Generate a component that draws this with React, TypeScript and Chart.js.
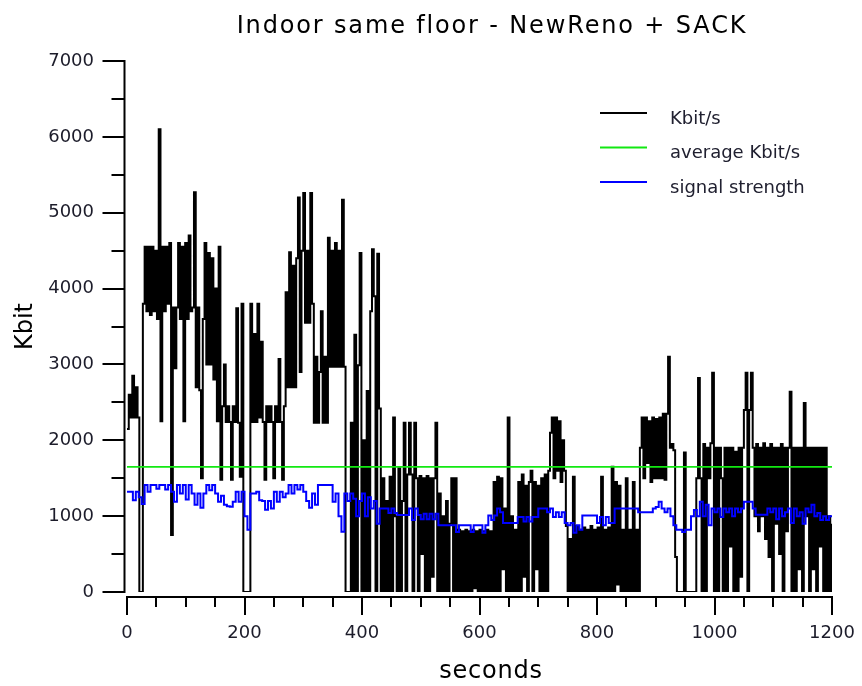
import React, { useEffect, useRef } from 'react';
import { Chart, registerables } from 'chart.js';

Chart.register(...registerables);

// ---- text ----
const TITLE = 'Indoor same floor - NewReno + SACK';
const X_TITLE = 'seconds';
const Y_TITLE = 'Kbit';
const SERIES_LABELS = ['Kbit/s', 'average Kbit/s', 'signal strength'];
const SERIES_COLORS = ['#000000', '#12e812', '#0000ff'];

// ---- axes ----
const X_MIN = 0;
const X_MAX = 1200;
const X_MAJOR = 200;
const X_MINOR = 50;
const Y_MIN = 0;
const Y_MAX = 7000;
const Y_MAJOR = 1000;
const Y_MINOR = 500;

// ---- throughput, one sample every 3 s ----
const KBIT_STEP = 3;
const KBIT = [
  2150, 2600, 2300, 2850, 2300, 2700, 2300, 0, 0, 3800,
  4550, 3700, 4550, 3650, 4550, 3700, 4500, 3600, 6100, 2250,
  4550, 3700, 4550, 3800, 4600, 750, 3750, 2950, 3750, 4600,
  3600, 4550, 2250, 4600, 3600, 4700, 3700, 3750, 5270, 2700,
  3750, 2660, 1500, 3600, 4600, 3000, 4470, 3000, 4400, 2800,
  4000, 2250, 4550, 1480, 2450, 3000, 2240, 2450, 2240, 1480,
  2450, 2240, 3740, 2230, 1520, 3800, 0, 0, 0, 0,
  3800, 2240, 3400, 2240, 3800, 2300, 3300, 2240, 1480, 2450,
  2240, 2450, 2240, 1500, 2450, 2240, 3070, 2240, 1480, 2450,
  3950, 2700, 4480, 2700, 4300, 2700, 4400, 5200, 2900, 4500,
  5260, 3550, 4500, 3550, 5260, 3800, 2230, 3100, 2230, 2900,
  3700, 2230, 3100, 2230, 4670, 2970, 4500, 2970, 4600, 2970,
  4500, 2970, 5170, 2970, 0, 0, 0, 2230, 0, 3390,
  0, 2990, 4470, 0, 2000, 0, 2650, 0, 3700, 4520,
  3900, 0, 4460, 2420, 0, 1500, 0, 1200, 0, 1520,
  0, 2300, 1000, 0, 1630, 0, 1200, 2230, 0, 1550,
  2230, 1550, 0, 2230, 1500, 0, 1530, 500, 1500, 0,
  1530, 0, 1500, 200, 1500, 2230, 0, 1300, 0, 1000,
  0, 1200, 0, 900, 1500, 0, 1500, 0, 820, 0,
  800, 0, 820, 0, 800, 0, 820, 50, 800, 0,
  820, 0, 800, 0, 820, 0, 800, 0, 1450, 0,
  1520, 0, 1500, 300, 1100, 0, 2300, 0, 1000, 0,
  820, 0, 1450, 0, 1550, 200, 1400, 0, 1450, 1600,
  0, 1450, 300, 1400, 0, 1500, 0, 1550, 0, 1600,
  2100, 2300, 1500, 2300, 1600, 2250, 1450, 2000, 1600, 870,
  0, 700, 0, 1520, 0, 870, 0, 820, 0, 850,
  0, 820, 0, 870, 0, 820, 0, 850, 0, 1520,
  0, 820, 0, 850, 0, 1650, 0, 1450, 100, 1400,
  0, 820, 0, 1500, 0, 820, 0, 1450, 0, 820,
  0, 1900, 2300, 1500, 2300, 1700, 2250, 1450, 2300, 1500,
  2280, 1500, 2300, 1500, 2350, 1480, 2350, 3100, 1900, 1950,
  1870, 460, 0, 0, 0, 0, 1840, 0, 0, 0,
  0, 0, 0, 1500, 2820, 1500, 0, 1950, 0, 1900,
  1500, 1960, 2890, 0, 1900, 0, 1900, 1500, 0, 1900,
  0, 1900, 600, 1900, 0, 1850, 0, 1900, 200, 1900,
  2400, 2890, 0, 2400, 2890, 1900, 1000, 1950, 800, 1900,
  1000, 1960, 700, 1900, 460, 1950, 0, 1900, 900, 1900,
  500, 1950, 0, 1900, 800, 1900, 2640, 0, 1900, 0,
  1900, 300, 1900, 0, 2490, 1000, 1900, 0, 1900, 300,
  1900, 0, 1900, 600, 1900, 0, 1900, 0, 1000, 0,
  900,
];

// ---- mean throughput over the run ----
const AVERAGE_KBIT = 1650;

// ---- signal strength, one sample every 5 s ----
const SIGNAL_STEP = 5;
const SIGNAL = [
  1320, 1320, 1210, 1320, 1250, 1160, 1410, 1320, 1410, 1410,
  1360, 1410, 1410, 1350, 1410, 1320, 1190, 1410, 1300, 1410,
  1220, 1410, 1300, 1150, 1300, 1110, 1300, 1410, 1340, 1410,
  1300, 1190, 1270, 1150, 1130, 1125, 1190, 1320, 1190, 1320,
  1000, 820, 1300, 1300, 1320, 1210, 1200, 1085, 1200, 1100,
  1320, 1190, 1320, 1250, 1300, 1410, 1300, 1410, 1350, 1410,
  1320, 1200, 1110, 1300, 1150, 1410, 1410, 1410, 1410, 1410,
  1190, 1300, 1000, 795, 1300, 1200, 1300, 1230, 1000, 1200,
  1300, 1000, 1250, 1100, 1200, 900, 1100, 1100, 1100, 1040,
  1100, 1040, 1015, 1015, 1015, 1015, 1100, 950, 1100, 1015,
  960, 1030, 960, 1030, 960, 1030, 880, 880, 880, 880,
  880, 880, 790, 880, 880, 880, 880, 790, 880, 880,
  880, 780, 880, 1010, 950, 1010, 1100, 1050, 910, 910,
  910, 910, 910, 990, 990, 930, 990, 930, 990, 990,
  1100, 1100, 1100, 1050, 1100, 990, 1050, 990, 1050, 910,
  880, 910, 780, 880, 820, 1010, 1010, 1010, 1010, 1010,
  910, 990, 880, 990, 910, 910, 1100, 1100, 1100, 1100,
  1100, 1100, 1100, 1100, 1050, 1050, 1050, 1050, 1050, 1100,
  1120, 1190, 1100, 1050, 1100, 1000, 880, 820, 820, 790,
  820, 820, 1000, 1080, 1000, 1190, 1000, 1150, 880, 1100,
  1050, 1100, 990, 1100, 1050, 1100, 1000, 1100, 1050, 1100,
  1190, 1190, 1190, 1100, 1020, 1020, 1020, 1020, 1100, 1050,
  1100, 960, 1100, 1000, 1050, 1100, 910, 1100, 1000, 1050,
  900, 1100, 1050, 1150, 1000, 1040, 950, 1000, 950, 1000,
  1000,
];

const FONT_FAMILY = '"DejaVu Sans", Verdana, sans-serif';
const INK = '#000000';
const TICK_INK = '#1c1c2a';

// Detached axis lines with long major and short minor tick marks.
const detachedAxes = {
  id: 'detachedAxes',
  afterDraw(chart: any) {
    const { ctx, chartArea } = chart;
    const xs = chart.scales.x;
    const ys = chart.scales.y;
    ctx.save();
    ctx.strokeStyle = INK;
    ctx.lineWidth = 2;
    ctx.lineCap = 'butt';

    // vertical axis
    const ax = chartArea.left - 2.5;
    ctx.beginPath();
    ctx.moveTo(ax, ys.getPixelForValue(Y_MAX) - 1);
    ctx.lineTo(ax, ys.getPixelForValue(Y_MIN) + 1);
    ctx.stroke();
    for (let v = Y_MIN; v <= Y_MAX; v += Y_MINOR) {
      const py = Math.round(ys.getPixelForValue(v));
      const len = v % Y_MAJOR === 0 ? 22 : 13;
      ctx.beginPath();
      ctx.moveTo(ax - len, py);
      ctx.lineTo(ax, py);
      ctx.stroke();
    }

    // horizontal axis
    const ay = chartArea.bottom + 5;
    ctx.beginPath();
    ctx.moveTo(xs.getPixelForValue(X_MIN) - 1, ay);
    ctx.lineTo(xs.getPixelForValue(X_MAX) + 1, ay);
    ctx.stroke();
    for (let v = X_MIN; v <= X_MAX; v += X_MINOR) {
      const px = Math.round(xs.getPixelForValue(v));
      const len = v % X_MAJOR === 0 ? 18 : 10;
      ctx.beginPath();
      ctx.moveTo(px, ay);
      ctx.lineTo(px, ay + len);
      ctx.stroke();
    }
    ctx.restore();
  },
};

// Chart heading, horizontal axis caption and the line legend.
const captions = {
  id: 'captions',
  afterDraw(chart: any) {
    const { ctx, chartArea } = chart;
    ctx.save();
    ctx.fillStyle = INK;
    ctx.textAlign = 'center';
    ctx.textBaseline = 'alphabetic';
    ctx.font = `24px ${FONT_FAMILY}`;
    (ctx as any).letterSpacing = '1.85px';
    ctx.fillText(TITLE, chartArea.left + 365, 33);
    (ctx as any).letterSpacing = '0.8px';
    ctx.fillText(X_TITLE, chartArea.left + 364, 678);
    (ctx as any).letterSpacing = '0px';

    // legend
    ctx.textAlign = 'left';
    ctx.font = `18px ${FONT_FAMILY}`;
    const lx = chartArea.left + 473;
    chart.data.datasets.forEach((ds: any, i: number) => {
      const ly = chartArea.top + 52 + i * 34.5;
      ctx.strokeStyle = ds.borderColor;
      ctx.lineWidth = 2;
      ctx.beginPath();
      ctx.moveTo(lx, ly);
      ctx.lineTo(lx + 47, ly);
      ctx.stroke();
      ctx.fillStyle = '#202030';
      ctx.fillText(ds.label, lx + 70, ly + 10.6);
    });
    ctx.restore();
  },
};

export default function App() {
  const canvasRef = useRef<HTMLCanvasElement | null>(null);

  useEffect(() => {
    const canvas = canvasRef.current;
    if (!canvas) return;

    const throughput = KBIT.map((v, i) => ({ x: i * KBIT_STEP, y: v }));
    const signal = SIGNAL.map((v, i) => ({ x: i * SIGNAL_STEP, y: v }));
    const average = [
      { x: X_MIN, y: AVERAGE_KBIT },
      { x: X_MAX, y: AVERAGE_KBIT },
    ];

    const tickFont = { family: FONT_FAMILY, size: 18 };

    const chart = new Chart(canvas, {
      type: 'line',
      data: {
        datasets: [
          {
            label: SERIES_LABELS[0],
            data: throughput,
            borderColor: SERIES_COLORS[0],
            borderWidth: 2,
            pointRadius: 0,
            stepped: true,
            fill: false,
            order: 2,
          },
          {
            label: SERIES_LABELS[1],
            data: average,
            borderColor: SERIES_COLORS[1],
            borderWidth: 1.6,
            pointRadius: 0,
            fill: false,
            order: 1,
          },
          {
            label: SERIES_LABELS[2],
            data: signal,
            borderColor: SERIES_COLORS[2],
            borderWidth: 2,
            pointRadius: 0,
            stepped: true,
            fill: false,
            order: 0,
          },
        ],
      },
      options: {
        responsive: false,
        animation: false,
        devicePixelRatio: 1,
        events: [],
        layout: { padding: { left: 0, top: 61, right: 30, bottom: 0 } },
        plugins: {
          legend: { display: false },
          title: { display: false },
          tooltip: { enabled: false },
        },
        scales: {
          x: {
            type: 'linear',
            min: X_MIN,
            max: X_MAX,
            afterFit: (s: any) => {
              s.height = 94;
              s.paddingLeft = 0;
              s.paddingRight = 0;
            },
            grid: { display: false, drawTicks: false },
            border: { display: false },
            ticks: {
              stepSize: X_MAJOR,
              padding: 31,
              color: TICK_INK,
              font: tickFont,
              maxRotation: 0,
              autoSkip: false,
              callback: (v: any) => String(v),
            },
          },
          y: {
            type: 'linear',
            min: Y_MIN,
            max: Y_MAX,
            afterFit: (s: any) => {
              s.width = 127;
              s.paddingTop = 0;
              s.paddingBottom = 0;
            },
            grid: { display: false, drawTicks: false },
            border: { display: false },
            ticks: {
              stepSize: Y_MAJOR,
              padding: 33,
              color: TICK_INK,
              font: tickFont,
              autoSkip: false,
              callback: (v: any) => String(v),
            },
            title: {
              display: true,
              text: Y_TITLE,
              color: INK,
              font: { family: FONT_FAMILY, size: 24 },
              padding: { top: 11, bottom: 0 },
            },
          },
        },
      },
      plugins: [detachedAxes, captions],
    });

    return () => chart.destroy();
  }, []);

  return (
    <div
      style={{
        position: 'fixed',
        left: 0,
        top: 0,
        width: 862,
        height: 686,
        background: '#ffffff',
      }}
    >
      <canvas ref={canvasRef} width={862} height={686} style={{ display: 'block' }} />
    </div>
  );
}
